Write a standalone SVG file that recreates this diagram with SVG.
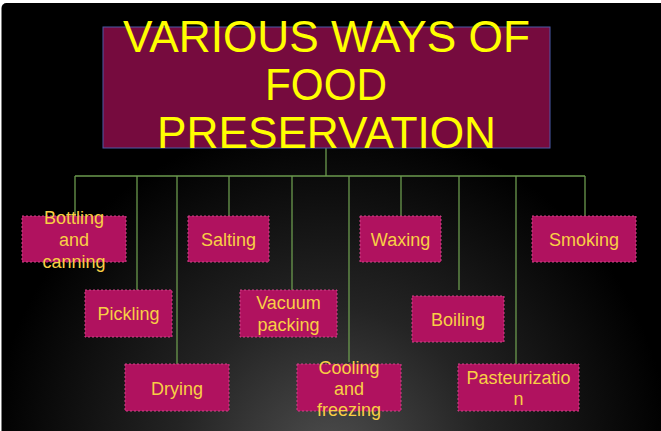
<svg xmlns="http://www.w3.org/2000/svg" width="661" height="431" viewBox="0 0 661 431">
  <defs>
    <radialGradient id="bg" cx="330" cy="460" r="340" gradientUnits="userSpaceOnUse">
      <stop offset="0" stop-color="#4e4e4e"/>
      <stop offset="0.45" stop-color="#242424"/>
      <stop offset="1" stop-color="#000"/>
    </radialGradient>
    <style>
      .node { fill: #b0125f; stroke: #d0458a; stroke-width: 1; stroke-dasharray: 2 2; }
      .lbl { font-family: "Liberation Sans", Arial, sans-serif; font-size: 18px; fill: #f8cf45; text-anchor: middle; }
      .title { font-family: "Liberation Sans", Arial, sans-serif; font-size: 44px; fill: #ffff00; text-anchor: middle; }
      .conn line { stroke: #6b9a4e; stroke-width: 1.3; }
    </style>
  </defs>
  <rect x="0" y="0" width="661" height="431" fill="#ffffff"/>
  <rect x="1.5" y="3" width="670" height="440" rx="5" fill="url(#bg)"/>

  <g id="connectors" class="conn">
    <line x1="326" y1="147" x2="326" y2="176"/>
    <line x1="75" y1="176" x2="585" y2="176"/>
    <line x1="75" y1="176" x2="75" y2="216"/>
    <line x1="137" y1="176" x2="137" y2="290"/>
    <line x1="177" y1="176" x2="177" y2="364"/>
    <line x1="229" y1="176" x2="229" y2="216"/>
    <line x1="292" y1="176" x2="292" y2="290"/>
    <line x1="349" y1="176" x2="349" y2="362"/>
    <line x1="401" y1="176" x2="401" y2="216"/>
    <line x1="459" y1="176" x2="459" y2="290"/>
    <line x1="516" y1="176" x2="516" y2="364"/>
    <line x1="585" y1="176" x2="585" y2="216"/>
  </g>

  <g id="title">
    <rect x="103" y="27" width="447" height="121" fill="#760b3e" stroke="#4a5aa8" stroke-width="1"/>
    <text class="title" x="326.5" y="52" textLength="407" lengthAdjust="spacingAndGlyphs">VARIOUS WAYS OF</text>
    <text class="title" x="326" y="100" textLength="122" lengthAdjust="spacingAndGlyphs">FOOD</text>
    <text class="title" x="326.5" y="148" textLength="339" lengthAdjust="spacingAndGlyphs">PRESERVATION</text>
  </g>

  <g id="bottling">
    <rect class="node" x="22" y="216" width="104" height="46"/>
    <text class="lbl" x="74" y="224">Bottling</text>
    <text class="lbl" x="74" y="246">and</text>
    <text class="lbl" x="74" y="268">canning</text>
  </g>
  <g id="salting">
    <rect class="node" x="188" y="216" width="81" height="46"/>
    <text class="lbl" x="228.5" y="246">Salting</text>
  </g>
  <g id="waxing">
    <rect class="node" x="360" y="216" width="81" height="46"/>
    <text class="lbl" x="400.5" y="246">Waxing</text>
  </g>
  <g id="smoking">
    <rect class="node" x="532" y="216" width="104" height="46"/>
    <text class="lbl" x="584" y="246">Smoking</text>
  </g>
  <g id="pickling">
    <rect class="node" x="85" y="290" width="87" height="47"/>
    <text class="lbl" x="128.5" y="320">Pickling</text>
  </g>
  <g id="vacuum">
    <rect class="node" x="240" y="290" width="97" height="47"/>
    <text class="lbl" x="288.5" y="309">Vacuum</text>
    <text class="lbl" x="288.5" y="331">packing</text>
  </g>
  <g id="boiling">
    <rect class="node" x="412" y="296" width="92" height="46"/>
    <text class="lbl" x="458" y="326">Boiling</text>
  </g>
  <g id="drying">
    <rect class="node" x="125" y="364" width="104" height="47"/>
    <text class="lbl" x="177" y="395">Drying</text>
  </g>
  <g id="cooling">
    <rect class="node" x="297" y="364" width="104" height="47"/>
    <text class="lbl" x="349" y="374">Cooling</text>
    <text class="lbl" x="349" y="395">and</text>
    <text class="lbl" x="349" y="416">freezing</text>
  </g>
  <g id="pasteurization">
    <rect class="node" x="458" y="364" width="121" height="47"/>
    <text class="lbl" x="518.5" y="384">Pasteurizatio</text>
    <text class="lbl" x="518.5" y="405">n</text>
  </g>
</svg>
